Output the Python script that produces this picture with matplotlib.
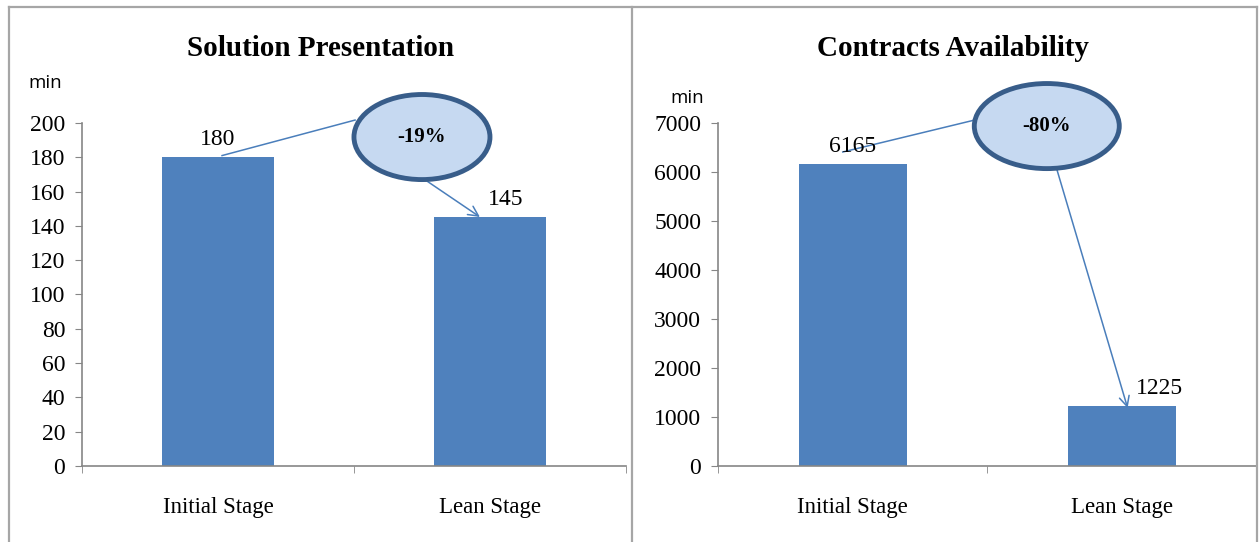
import matplotlib.pyplot as plt
from matplotlib.patches import Ellipse
from matplotlib.lines import Line2D

stages = ["Initial Stage", "Lean Stage"]
presentation_min = [180, 145]
contracts_min = [6165, 1225]
presentation_change = "-19%"
contracts_change = "-80%"

bar_color = "#4F81BD"
axis_grey = "#868686"
link_blue = "#4A7EBB"
serif = "Liberation Serif"

fig = plt.figure(figsize=(12.59, 5.42), dpi=100)

# panel frames
frame_kw = dict(color="#A6A6A6", lw=1.6, transform=fig.transFigure)
fig.add_artist(Line2D([0.007, 0.007], [0, 0.987], **frame_kw))
fig.add_artist(Line2D([0.502, 0.502], [0, 0.987], **frame_kw))
fig.add_artist(Line2D([0.9985, 0.9985], [0, 0.987], **frame_kw))
fig.add_artist(Line2D([0.007, 0.9985], [0.987, 0.987], **frame_kw))


def draw_panel(rect, values, ymax, step, title, change, bar_w, label_dx,
               ell_xy, ell_wh, link, arr_start, arr_end, min_xy, title_x):
    ax = fig.add_axes(rect)
    x = range(len(stages))
    ax.bar(x, values, width=bar_w, color=bar_color)
    # value labels, the lean one nudged right to clear the arrow
    for xi, v, dx in zip(x, values, label_dx):
        ax.annotate(str(v), (xi, v), xytext=(dx, 5), textcoords="offset points",
                    ha="center", va="bottom", fontsize=17, family=serif)
    ax.set_xlim(-0.5, 1.5)
    ax.set_ylim(0, ymax)
    ax.set_yticks(range(0, ymax + 1, step))
    ax.set_xticks(list(x))
    ax.set_xticklabels(stages, family=serif, fontsize=16.5)
    ax.set_xticks([-0.5, 0.5, 1.5], minor=True)
    for lab in ax.get_yticklabels():
        lab.set_family(serif)
        lab.set_fontsize(17)
    ax.tick_params(axis="y", length=5, color=axis_grey, pad=7)
    ax.tick_params(axis="x", which="major", length=0, pad=22)
    ax.tick_params(axis="x", which="minor", length=5, color=axis_grey)
    for s in ["top", "right"]:
        ax.spines[s].set_visible(False)
    for s in ["left", "bottom"]:
        ax.spines[s].set_color(axis_grey)
        ax.spines[s].set_linewidth(1.2)

    fig.text(title_x, 0.897, title, ha="center", va="baseline", fontsize=21,
             fontweight="bold", family=serif)
    fig.text(min_xy[0], min_xy[1], "min", ha="center", fontsize=13.5,
             family="Open Sans")

    # connector line and arrow through the percentage bubble
    ax.add_line(Line2D(link[0], link[1], color=link_blue, lw=1.1,
                       clip_on=False))
    ax.annotate("", xy=arr_end, xycoords="data", xytext=arr_start,
                textcoords="axes fraction",
                arrowprops=dict(arrowstyle="->", color=link_blue, lw=1.1,
                                mutation_scale=18, shrinkA=0, shrinkB=0))
    ell = Ellipse(ell_xy, ell_wh[0], ell_wh[1], transform=ax.transAxes,
                  facecolor="#C6D9F1", edgecolor="#385D8A", lw=3.5,
                  clip_on=False, zorder=5)
    ax.add_patch(ell)
    ax.text(ell_xy[0], ell_xy[1], change, transform=ax.transAxes, ha="center",
            va="center", fontsize=15, fontweight="bold", family=serif, zorder=6)
    return ax


draw_panel([0.0651, 0.1402, 0.4321, 0.6329], presentation_min, 200, 20,
           "Solution Presentation", presentation_change, 0.41, [0, 11],
           (0.625, 0.959), (0.25, 0.248),
           ([0.015, 0.504], [181, 201.7]), (0.618, 0.848), (0.963, 145.2),
           (0.036, 0.837), 0.255)
draw_panel([0.5703, 0.1402, 0.4281, 0.6329], contracts_min, 7000, 1000,
           "Contracts Availability", contracts_change, 0.40, [0, 27],
           (0.610, 0.991), (0.269, 0.248),
           ([-0.037, 0.453], [6408, 7061]), (0.629, 0.863), (1.02, 1184),
           (0.546, 0.81), 0.757)

fig.savefig("out.png", dpi=100)
